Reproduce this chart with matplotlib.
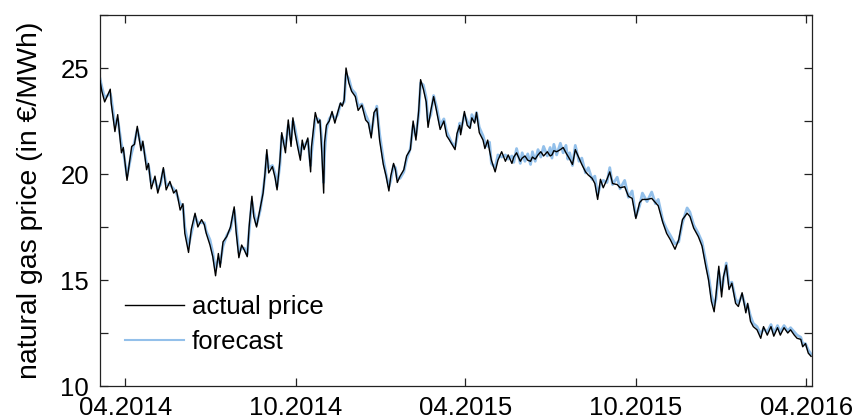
import matplotlib
matplotlib.use("Agg")
import matplotlib.pyplot as plt
import matplotlib.dates as mdates
from matplotlib.ticker import MultipleLocator
import pandas as pd

plt.rcParams['font.family'] = ['Liberation Sans', 'DejaVu Sans']

# Day offsets relative to 1 April 2014
start = pd.Timestamp("2014-04-01")
days = [
    -27, -25, -22, -16, -15, -11, -8, -4, -2, 2,
    7, 10, 13, 17, 19, 23, 25, 28, 32, 35,
    38, 41, 44, 48, 52, 55, 59, 62, 64, 68,
    71, 75, 78, 82, 85, 87, 91, 94, 97, 100,
    102, 105, 109, 113, 117, 119, 122, 125, 128, 131,
    133, 136, 138, 141, 145, 148, 150, 152, 154, 158,
    161, 163, 166, 168, 172, 175, 178, 180, 182, 185,
    188, 190, 192, 196, 199, 200, 204, 207, 209, 211,
    213, 214, 216, 219, 222, 225, 228, 231, 233, 235,
    237, 240, 243, 247, 250, 254, 258, 261, 264, 267,
    270, 273, 277, 280, 283, 285, 288, 290, 292, 295,
    299, 302, 306, 309, 312, 315, 317, 320, 323, 325,
    328, 331, 334, 338, 342, 345, 348, 350, 354, 356,
    359, 360, 364, 367, 370, 372, 375, 377, 380, 384,
    386, 389, 391, 393, 397, 400, 404, 408, 411, 415,
    417, 420, 424, 426, 429, 432, 435, 437, 440, 443,
    446, 449, 453, 456, 458, 460, 463, 467, 470, 473,
    475, 477, 480, 483, 487, 490, 494, 497, 501, 504,
    507, 510, 513, 517, 520, 523, 528, 531, 536, 540,
    544, 548, 552, 555, 560, 565, 569, 572, 577, 581,
    585, 590, 594, 598, 603, 606, 610, 615, 619, 623,
    626, 629, 632, 634, 637, 640, 642, 645, 648, 651,
    655, 658, 662, 666, 668, 671, 674, 678, 682, 685,
    689, 693, 696, 700, 703, 707, 711, 714, 718, 721,
    725, 727, 730, 733, 736,
]

# Actual natural gas price (EUR/MWh)
actual = [
    24.4, 23.9, 23.4, 24.0, 23.35, 22.0, 22.8, 21.0, 21.25, 19.7,
    21.3, 21.4, 22.25, 21.1, 21.55, 20.2, 20.5, 19.3, 19.9, 19.1,
    19.6, 20.3, 19.25, 19.65, 19.1, 19.25, 18.3, 18.6, 17.2, 16.3,
    17.4, 18.15, 17.5, 17.85, 17.6, 17.2, 16.65, 16.1, 15.2, 16.25,
    15.6, 16.8, 17.05, 17.5, 18.45, 17.3, 16.05, 16.65, 16.4, 16.1,
    17.5, 18.95, 18.0, 17.5, 18.4, 19.1, 20.0, 21.15, 20.05, 20.35,
    19.8, 19.25, 20.6, 21.95, 21.0, 22.55, 21.3, 22.65, 22.0, 21.3,
    20.65, 21.6, 21.15, 21.7, 20.1, 21.3, 22.9, 22.4, 22.55, 21.0,
    19.1, 21.5, 22.3, 22.5, 22.95, 22.4, 22.9, 23.35, 23.2, 23.5,
    25.0, 24.3, 23.9, 23.65, 23.0, 23.25, 22.55, 22.4, 21.7, 22.9,
    23.1, 21.6, 20.45, 19.9, 19.2, 19.9, 20.5, 20.2, 19.6, 19.9,
    20.2, 20.85, 21.15, 22.5, 21.6, 23.0, 24.45, 24.0, 23.4, 22.2,
    23.0, 23.65, 23.0, 22.1, 22.5, 21.8, 21.6, 21.45, 21.15, 21.9,
    22.3, 21.85, 22.95, 22.3, 22.15, 22.65, 22.4, 22.9, 21.95, 21.6,
    21.2, 21.6, 21.1, 20.65, 20.1, 20.65, 21.05, 20.6, 20.9, 20.5,
    20.8, 21.0, 20.6, 20.75, 20.85, 20.65, 20.6, 20.8, 20.7, 20.9,
    21.05, 20.85, 21.05, 20.85, 20.9, 21.1, 21.05, 21.15, 21.25, 21.0,
    20.85, 20.7, 20.45, 21.15, 20.75, 20.45, 20.1, 19.95, 19.8, 19.55,
    18.8, 19.75, 19.35, 19.75, 20.1, 19.55, 19.5, 19.35, 19.4, 18.95,
    18.85, 17.9, 18.65, 18.8, 18.8, 18.85, 18.65, 18.5, 17.7, 17.2,
    16.9, 16.45, 16.9, 17.85, 18.15, 18.0, 17.45, 17.05, 16.6, 15.65,
    15.0, 14.0, 13.5, 14.3, 15.65, 14.2, 15.15, 15.7, 14.55, 14.85,
    13.9, 13.75, 14.4, 13.45, 13.9, 13.05, 12.8, 12.65, 12.25, 12.8,
    12.4, 12.8, 12.35, 12.75, 12.4, 12.75, 12.5, 12.65, 12.4, 12.25,
    12.2, 11.85, 12.0, 11.55, 11.4,
]

# Model forecast (EUR/MWh)
forecast = [
    24.5, 24.1, 23.6, 23.8, 23.6, 22.3, 22.6, 21.4, 21.1, 19.9,
    21.0, 21.5, 22.1, 21.4, 21.4, 20.5, 20.4, 19.6, 19.7, 19.3,
    19.5, 20.2, 19.5, 19.5, 19.3, 19.1, 18.6, 18.5, 17.5, 16.6,
    17.2, 18.0, 17.7, 17.7, 17.7, 17.3, 16.9, 16.3, 15.5, 16.0,
    15.8, 16.6, 17.1, 17.4, 18.3, 17.6, 16.3, 16.5, 16.5, 16.2,
    17.3, 18.7, 18.2, 17.6, 18.3, 19.2, 19.9, 20.9, 20.3, 20.4,
    20.0, 19.4, 20.4, 21.8, 21.3, 22.3, 21.6, 22.5, 22.2, 21.5,
    20.9, 21.4, 21.3, 21.6, 20.4, 21.0, 22.6, 22.6, 22.5, 21.6,
    19.6, 21.0, 22.1, 22.6, 22.8, 22.6, 22.8, 23.3, 23.3, 23.4,
    24.7, 24.5, 24.0, 23.8, 23.2, 23.3, 22.8, 22.5, 21.9, 22.7,
    23.2, 21.9, 20.7, 20.0, 19.4, 19.7, 20.4, 20.3, 19.8, 19.8,
    20.1, 20.7, 21.2, 22.3, 21.8, 22.8, 24.3, 24.2, 23.6, 22.5,
    22.8, 23.7, 23.2, 22.3, 22.6, 22.0, 21.7, 21.5, 21.3, 21.7,
    22.4, 22.0, 22.8, 22.5, 22.2, 22.8, 22.5, 22.9, 22.2, 21.8,
    21.5, 21.3, 21.5, 20.5, 20.3, 20.9, 20.8, 20.9, 20.7, 20.85,
    20.55, 21.2, 20.5, 21.0, 20.6, 20.95, 20.45, 21.05, 20.6, 21.15,
    20.8, 21.3, 20.85, 21.25, 20.75, 21.4, 20.9, 21.45, 21.0, 21.35,
    20.7, 21.0, 20.4, 21.35, 20.6, 20.75, 20.05, 20.3, 19.75, 19.9,
    19.0, 19.5, 19.7, 19.6, 20.3, 19.5, 19.85, 19.3, 19.7, 18.9,
    19.2, 18.0, 18.5, 19.1, 18.7, 19.15, 18.6, 18.8, 17.8, 17.4,
    17.1, 16.7, 16.8, 17.7, 18.4, 18.2, 17.6, 17.2, 16.8, 15.9,
    15.2, 14.3, 13.8, 14.1, 15.4, 14.5, 15.0, 15.8, 14.8, 14.9,
    14.1, 13.9, 14.3, 13.7, 13.8, 13.3, 12.95, 12.8, 12.45, 12.7,
    12.55, 12.9, 12.5, 12.85, 12.55, 12.85, 12.6, 12.75, 12.55, 12.4,
    12.3, 12.0, 12.0, 11.7, 11.5,
]

tick_dates = ["2014-04-01", "2014-10-01", "2015-04-01", "2015-10-01", "2016-04-01"]
y_ticks = [10, 15, 20, 25]

assert len(days) == len(actual) == len(forecast)
dates = start + pd.to_timedelta(days, unit="D")

fig = plt.figure(figsize=(8.52, 4.19), dpi=100)
ax = fig.add_axes([100 / 852, 1 - 386 / 419, 712 / 852, 371 / 419])

ax.plot(dates, actual, color="black", lw=1.0, label="actual price", zorder=3)
ax.plot(dates, forecast, color="#93c0ea", lw=2.0, label="forecast", zorder=2)

ax.set_xlim(start - pd.Timedelta(days=27), start + pd.Timedelta(days=737))
ax.set_ylim(10, 27.5)

ax.set_xticks(pd.to_datetime(tick_dates))
ax.xaxis.set_major_formatter(mdates.DateFormatter("%m.%Y"))
ax.set_yticks(y_ticks)
ax.yaxis.set_minor_locator(MultipleLocator(2.5))

for s in ax.spines.values():
    s.set_linewidth(0.9)
    s.set_color("#222222")

ax.tick_params(axis="both", which="both", direction="in", length=5.5,
               width=0.9, color="#222222", top=True, right=True)
ax.tick_params(axis="x", labelsize=18.5, pad=7)
ax.tick_params(axis="y", labelsize=18.5, pad=8)

ax.set_ylabel("natural gas price (in €/MWh)", fontsize=20.5, labelpad=12)

leg = ax.legend(loc="lower left", bbox_to_anchor=(0.035, 0.085), frameon=False,
                fontsize=18.5, handlelength=2.3, handletextpad=0.3,
                labelspacing=0.45, borderaxespad=0, borderpad=0)
leg.get_lines()[1].set_linewidth(1.5)

fig.savefig("out.png", dpi=100)
